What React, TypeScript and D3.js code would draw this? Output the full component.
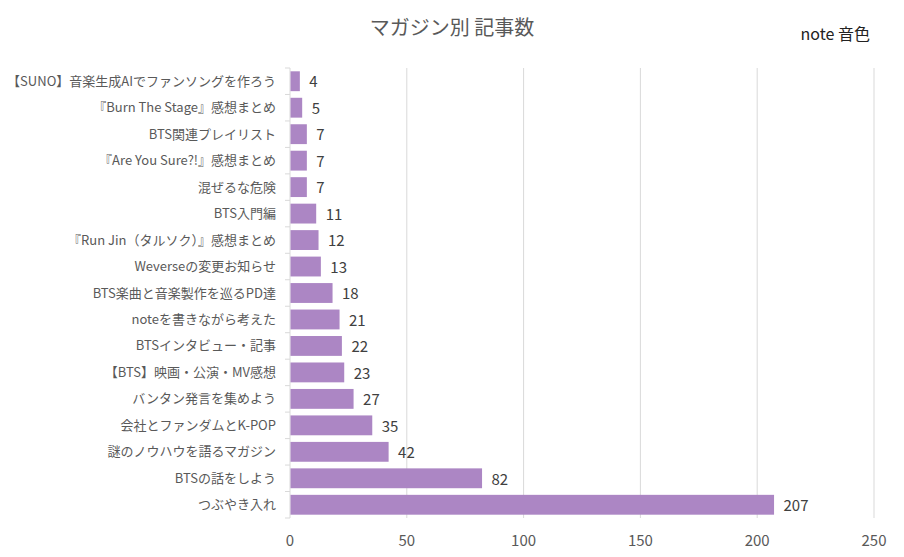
import React from "react";
import * as d3 from "d3";

const categories = [
  "【SUNO】音楽生成AIでファンソングを作ろう",
  "『Burn The Stage』感想まとめ",
  "BTS関連プレイリスト",
  "『Are You Sure?!』感想まとめ",
  "混ぜるな危険",
  "BTS入門編",
  "『Run Jin（タルソク）』感想まとめ",
  "Weverseの変更お知らせ",
  "BTS楽曲と音楽製作を巡るPD達",
  "noteを書きながら考えた",
  "BTSインタビュー・記事",
  "【BTS】映画・公演・MV感想",
  "バンタン発言を集めよう",
  "会社とファンダムとK-POP",
  "謎のノウハウを語るマガジン",
  "BTSの話をしよう",
  "つぶやき入れ",
];
const values = [4, 5, 7, 7, 7, 11, 12, 13, 18, 21, 22, 23, 27, 35, 42, 82, 207];
const xTicks = [0, 50, 100, 150, 200, 250];
const title = "マガジン別 記事数";
const note = "note 音色";

const W = 904;
const H = 557;
const FONT = "'Noto Sans CJK JP', 'Noto Sans', sans-serif";

export default function App() {
  const x = d3.scaleLinear().domain([0, 250]).range([290, 874]);
  const y = d3.scaleBand<string>().domain(categories).range([68, 518]).paddingInner(0.25).paddingOuter(0.125);
  const boundaries = d3.range(categories.length + 1).map((i) => 68 + i * (450 / categories.length));
  return (
    <svg width={W} height={H} style={{ position: "absolute", left: 0, top: 0, background: "#fff" }} fontFamily={FONT}>
      <rect x={0} y={0} width={W} height={H} fill="#fff" />
      <text x={452} y={35} textAnchor="middle" fontSize={20} fill="#595959">{title}</text>
      <text x={870} y={40} textAnchor="end" fontSize={16} fill="#222">{note}</text>
      {xTicks.map((t) => (
        <g key={t}>
          {t > 0 && <line x1={x(t)} x2={x(t)} y1={68} y2={518} stroke="#d9d9d9" strokeWidth={1} />}
          <text x={x(t)} y={546} textAnchor="middle" fontSize={15} fill="#595959">{t}</text>
        </g>
      ))}
      <line x1={290} x2={290} y1={68} y2={518} stroke="#d9d9d9" strokeWidth={1} />
      {boundaries.map((b, i) => (
        <line key={i} x1={285} x2={290} y1={b} y2={b} stroke="#d9d9d9" strokeWidth={1} />
      ))}
      {categories.map((c, i) => (
        <g key={c}>
          <rect x={x(0) + 0.5} y={y(c)!} width={x(values[i]) - x(0)} height={y.bandwidth()} fill="#ac86c4" />
          <text x={276} y={y(c)! + y.bandwidth() / 2} dy="0.35em" textAnchor="end" fontSize={13} fill="#595959">{c}</text>
          <text x={x(values[i]) + 10} y={y(c)! + y.bandwidth() / 2 + 1} dy="0.35em" textAnchor="start" fontSize={15} fill="#404040">{values[i]}</text>
        </g>
      ))}
    </svg>
  );
}
